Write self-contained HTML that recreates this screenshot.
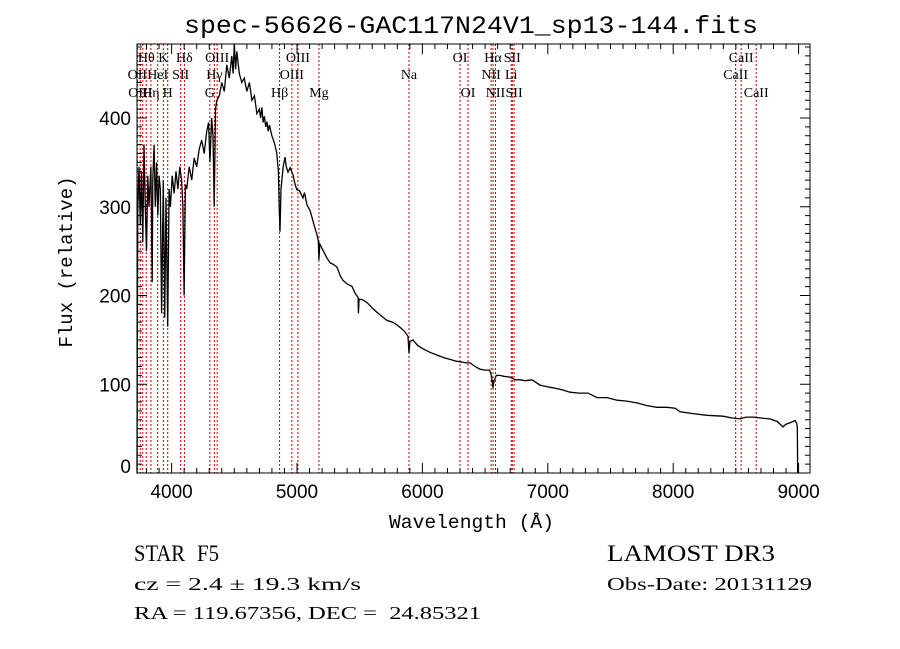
<!DOCTYPE html>
<html><head><meta charset="utf-8"><style>
html,body{margin:0;padding:0;background:#fff;}
svg{display:block;}
text{fill:#000;}
</style></head><body>
<svg id="chart" width="900" height="649" viewBox="0 0 900 649" xmlns="http://www.w3.org/2000/svg">
<rect width="900" height="649" fill="#fff"/>
<text x="184" y="33" textLength="574" lengthAdjust="spacingAndGlyphs" font-family="Liberation Mono, monospace" font-size="25">spec-56626-GAC117N24V1_sp13-144.fits</text>
<g id="lines"></g>
<g id="axes"></g>
<g id="spec"></g>
<text x="389" y="528" textLength="165" lengthAdjust="spacingAndGlyphs" font-family="Liberation Mono, monospace" font-size="19">Wavelength (Å)</text>
<text transform="translate(72,262) rotate(-90)" text-anchor="middle" font-family="Liberation Mono, monospace" font-size="19">Flux (relative)</text>
<text x="134" y="561" textLength="51" lengthAdjust="spacingAndGlyphs" font-family="Liberation Serif, serif" font-size="23">STAR</text>
<text x="197" y="561" textLength="22" lengthAdjust="spacingAndGlyphs" font-family="Liberation Serif, serif" font-size="23">F5</text>
<text x="134" y="590" textLength="227" lengthAdjust="spacingAndGlyphs" font-family="Liberation Serif, serif" font-size="18">cz = 2.4 ± 19.3 km/s</text>
<text x="134" y="619" xml:space="preserve" textLength="347" lengthAdjust="spacingAndGlyphs" font-family="Liberation Serif, serif" font-size="18">RA = 119.67356, DEC =  24.85321</text>
<text x="607" y="561" textLength="168" lengthAdjust="spacingAndGlyphs" font-family="Liberation Serif, serif" font-size="23">LAMOST DR3</text>
<text x="607" y="590" textLength="205" lengthAdjust="spacingAndGlyphs" font-family="Liberation Serif, serif" font-size="18">Obs-Date: 20131129</text>
</svg>
<script>
const waves = [3724,3726,3730,3740,3750,3760,3770,3780,3790,3800,3810,3820,3835,3845,3850,3860,3870,3880,3890,3900,3910,3920,3934,3945,3955,3969,3980,3990,4005,4020,4035,4050,4065,4080,4090,4100,4110,4120,4140,4160,4180,4200,4220,4240,4260,4280,4295,4305,4320,4330,4340,4350,4360,4380,4400,4420,4440,4460,4480,4490,4500,4510,4520,4540,4560,4580,4600,4620,4640,4660,4680,4700,4710,4720,4730,4740,4750,4760,4770,4780,
4800,4820,4838,4852,4858,4864,4872,4890,4904,4915,4928,4945,4968,4985,5000,5020,5048,5060,5080,5104,5125,5143,5160,5170,5175,5182,5207,5235,5263,5290,5319,5345,5367,5400,5439,5465,5487,5490,5495,5525,5558,5600,5638,5680,5718,5760,5797,5830,5861,5885,5893,5900,5925,5960,6005,6060,6116,6170,6220,6270,6316,6350,6380,6420,6459,6500,6535,6550,6563,6572,6590,6618,6650,6698,6740,6778,6820,6874,6938,7000,7041,7110,7177,7250,7320,7392,7472,7552,7630,7711,7790,7871,7950,8015,8054,8150,8269,8397,8470,8533,8580,8636,8700,8772,8830,8875,8900,8940,8971,8985,8990,8993];
const flux = [0,140,300,345,280,340,260,370,300,250,335,300,345,215,330,370,300,350,290,335,320,180,330,175,310,165,320,300,335,315,340,320,345,330,300,200,325,320,345,330,355,345,365,375,360,385,395,350,400,380,300,410,420,425,440,430,460,445,470,450,485,455,475,450,440,445,430,440,420,425,405,410,400,412,395,402,390,396,385,392,
380,372,361,340,300,272,320,345,356,345,339,344,336,325,319,318,310,316,302,296,285,276,268,262,240,258,251,243,237,235,232,222,217,213,210,202,198,180,196,195,192,186,181,176,172,170,167,163,159,154,135,148,150,144,140,136,133,130,128,126,125,124,124,120,117,116,116,110,96,104,110,110,109,108,105,105,104,105,99,97,96,94,91,90,90,85,85,82,81,79,76,74,74,73,69,67,65,64,62,61,63,63,62,61,58,52,55,57,59,56,52,0];
const lineWaves = [3727,3750,3770,3798,3835,3889,3934,3969,4072,4102,4305,4341,4363,4861,4959,5007,5175,5893,6300,6364,6548,6563,6583,6708,6717,6731,8498,8542,8662];
const lineLabels = [
 ["OII",3727,2],["OIII",3750,3],["Hθ",3798,1],["HeI",3889,2],["Hη",3835,3],["K",3934,1],["H",3969,3],["SII",4072,2],["Hδ",4102,1],["G",4305,3],["Hγ",4341,2],["OIII",4363,1],["Hβ",4861,3],["OIII",4959,2],["OIII",5007,1],["Mg",5175,3],["Na",5893,2],["OI",6300,1],["OI",6364,3],["NII",6548,2],["Hα",6563,1],["NII",6583,3],["Li",6708,2],["SII",6717,1],["SII",6731,3],["CaII",8498,2],["CaII",8542,1],["CaII",8662,3]];
const xTicks = [4000,5000,6000,7000,8000,9000];
const yTicks = [0,100,200,300,400];

const L=137,R=810,T=44,B=473;
const X0=3724,X1=9091;
const x = w => L+(w-X0)/(X1-X0)*(R-L);
const y = f => 473 - f*0.8875;
const NS='http://www.w3.org/2000/svg';
function mk(tag,attrs,parent){const e=document.createElementNS(NS,tag);for(const k in attrs)e.setAttribute(k,attrs[k]);parent.appendChild(e);return e;}

const lg=document.getElementById('lines');
lineWaves.forEach(w=>{
  const l=mk('line',{x1:x(w),x2:x(w),y1:T,y2:B,stroke:'#c00000','stroke-width':1,'stroke-dasharray':'2,2'},lg);
  
  
});
const rowY=[0,62,79,97];
lineLabels.forEach(d=>{
  const t=mk('text',{x:x(d[1]),y:rowY[d[2]],'text-anchor':'middle','font-family':'Liberation Serif, serif','font-size':14},lg);
  t.textContent=d[0];
  
  
});

const ag=document.getElementById('axes');
const fr=mk('rect',{x:L,y:T,width:R-L,height:B-T,fill:'none',stroke:'#000','stroke-width':1},ag);


for(let w=3800;w<=X1;w+=100){
  const maj=w%1000===0, len=maj?10:5, px=x(w);
  mk('line',{x1:px,x2:px,y1:B,y2:B-len,stroke:'#000'},ag);
  mk('line',{x1:px,x2:px,y1:T,y2:T+len,stroke:'#000'},ag);
}
for(let f=0;f<=480;f+=10){
  const maj=f%100===0, len=maj?10:5, py=y(f);
  if(py<T)continue;
  mk('line',{x1:L,x2:L+len,y1:py,y2:py,stroke:'#000'},ag);
  mk('line',{x1:R,x2:R-len,y1:py,y2:py,stroke:'#000'},ag);
}
xTicks.forEach(v=>{
  const t=mk('text',{x:x(v),y:B+25,'text-anchor':'middle','font-family':'Liberation Sans, sans-serif','font-size':19},ag);
  t.textContent=v;
  
  
});
yTicks.forEach(v=>{
  const t=mk('text',{x:L-6,y:Math.min(y(v)+7,473),'text-anchor':'end','font-family':'Liberation Sans, sans-serif','font-size':19},ag);
  t.textContent=v;
  
  
});

const sg=document.getElementById('spec');
const n=Math.min(waves.length,flux.length);
const pts=[];
for(let i=0;i<n;i++) pts.push(x(waves[i]).toFixed(1)+','+Math.max(T,y(flux[i])).toFixed(1));
const pl=mk('polyline',{points:pts.join(' '),fill:'none',stroke:'#000','stroke-width':1.3},sg);


</script>
</body></html>
